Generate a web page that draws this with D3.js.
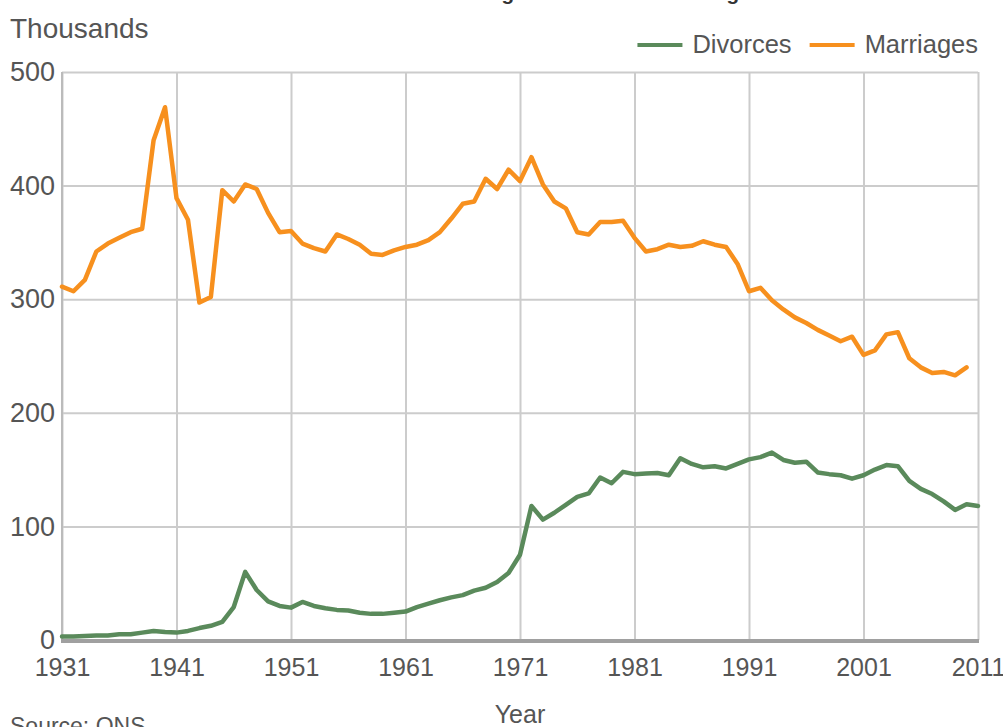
<!DOCTYPE html>
<html>
<head>
<meta charset="utf-8">
<script src="https://cdn.jsdelivr.net/npm/d3@7"></script>
<style>
  html, body { margin: 0; padding: 0; background: #fff; }
  svg { display: block; font-family: "Liberation Sans", Arial, Helvetica, sans-serif; }
</style>
</head>
<body>
<svg id="chart" width="1003" height="727"></svg>
<script>
// ---- Data (thousands) ----
const marriageYears = d3.range(1931, 2011);   // 1931..2010
const marriages = [
  311, 307, 317, 342, 349, 354, 359, 362, 440, 469,
  389, 370, 297, 302, 396, 386, 401, 397, 376, 359,
  360, 349, 345, 342, 357, 353, 348, 340, 339, 343,
  346, 348, 352, 359, 371, 384, 386, 406, 397, 414,
  404, 425, 401, 386, 380, 359, 357, 368, 368, 369,
  354, 342, 344, 348, 346, 347, 351, 348, 346, 331,
  307, 310, 299, 291, 284, 279, 273, 268, 263, 267,
  251, 255, 269, 271, 248, 240, 235, 236, 233, 240
];
const divorceYears = d3.range(1931, 2012);    // 1931..2011
const divorces = [
  3, 3, 3.5, 4, 4, 5, 5, 6.5, 8, 7,
  6.5, 8, 10.5, 12.5, 16, 29, 60, 44, 34, 30,
  28.5, 33.5, 30, 28, 26.5, 26, 24, 23, 23, 24,
  25, 29, 32, 35, 37.5, 39.5, 43.5, 46, 51, 59,
  75, 118, 106, 112, 119, 126, 129, 143, 138, 148,
  146, 146.5, 147, 145, 160, 155, 152, 153, 151, 155,
  159, 161, 165, 158.5, 156, 157, 147.5, 146, 145, 142,
  145, 150, 154, 153, 140, 133, 128.5, 122, 114.5, 119.5,
  118
];
const xTicks = [1931, 1941, 1951, 1961, 1971, 1981, 1991, 2001, 2011];
const yTicks = [0, 100, 200, 300, 400, 500];
const seriesNames = ["Divorces", "Marriages"];
const seriesColors = ["#5a8a5b", "#f7901e"];

// ---- Layout ----
const plotLeft = 62, plotRight = 978, plotTop = 72, plotBottom = 640;
const svg = d3.select("#chart");
const x = d3.scaleLinear().domain([1931, 2011]).range([plotLeft, plotRight]);
const y = d3.scaleLinear().domain([0, 500]).range([plotBottom, plotTop]);
const textColor = "#555";

// Title (cut off at top of frame: only descenders show)
const title = svg.append("text")
  .attr("font-weight", "bold")
  .attr("fill", "#333")
  .attr("font-size", 20)
  .attr("y", -0.5)
  .text("Marriages and divorces in England and Wales");
try {
  const node = title.node();
  const s = title.text();
  const i1 = s.indexOf("g"), i2 = s.indexOf("g", i1 + 1);
  const c1 = node.getSubStringLength(0, i1) + node.getSubStringLength(i1, 1) / 2;
  const c2 = node.getSubStringLength(0, i2) + node.getSubStringLength(i2, 1) / 2;
  const fs = 20 * 225 / (c2 - c1);
  title.attr("font-size", fs).attr("x", 508 - c1 * fs / 20);
} catch (e) {
  title.attr("x", 400);
}

// Horizontal gridlines + y labels
const yAxis = svg.append("g")
  .attr("transform", `translate(${plotLeft},0)`)
  .call(d3.axisLeft(y).tickValues(yTicks).tickSize(-(plotRight - plotLeft)).tickPadding(7).tickFormat(d3.format("d")));
yAxis.select(".domain").remove();
yAxis.selectAll(".tick line").attr("stroke", "#cccccc").attr("stroke-width", 2);
yAxis.selectAll(".tick text").attr("fill", textColor).attr("font-size", 27)
  .attr("font-family", "Liberation Sans, Arial, sans-serif");

// Vertical gridlines + x labels
const xAxis = svg.append("g")
  .attr("transform", `translate(0,${plotBottom})`)
  .call(d3.axisBottom(x).tickValues(xTicks).tickSize(-(plotBottom - plotTop)).tickPadding(18).tickFormat(d3.format("d")));
xAxis.select(".domain").remove();
xAxis.selectAll(".tick line").attr("stroke", "#cccccc").attr("stroke-width", 2);
xAxis.selectAll(".tick text").attr("fill", textColor).attr("font-size", 25)
  .attr("font-family", "Liberation Sans, Arial, sans-serif");

// Left axis line
svg.append("line")
  .attr("x1", x(1931)).attr("x2", x(1931))
  .attr("y1", y(500)).attr("y2", y(0))
  .attr("stroke", "#bbbbbb").attr("stroke-width", 2);

// Bottom axis line (thicker)
svg.append("line")
  .attr("x1", x(1931) - 1).attr("x2", x(2011) + 1)
  .attr("y1", y(0) + 1).attr("y2", y(0) + 1)
  .attr("stroke", "#a0a0a0").attr("stroke-width", 4);

// Lines
const line = d3.line().x(d => x(d[0])).y(d => y(d[1]));
const divData = divorceYears.map((yr, i) => [yr, divorces[i]]);
const marData = marriageYears.map((yr, i) => [yr, marriages[i]]);
[divData, marData].forEach((data, k) => {
  svg.append("path")
    .datum(data)
    .attr("fill", "none")
    .attr("stroke", seriesColors[k])
    .attr("stroke-width", 4.5)
    .attr("stroke-linejoin", "round")
    .attr("stroke-linecap", "round")
    .attr("d", line);
});

// Axis titles
svg.append("text").attr("x", 10).attr("y", 38)
  .attr("fill", textColor).attr("font-size", 28).text("Thousands");
svg.append("text").attr("x", 520).attr("y", 723).attr("text-anchor", "middle")
  .attr("fill", textColor).attr("font-size", 25).text("Year");
svg.append("text").attr("x", 10).attr("y", 734)
  .attr("fill", textColor).attr("font-size", 23).text("Source: ONS");

// Legend (right aligned)
const legend = svg.append("g");
let xEnd = plotRight;
for (let k = seriesNames.length - 1; k >= 0; k--) {
  const t = legend.append("text")
    .attr("x", xEnd).attr("y", 53).attr("text-anchor", "end")
    .attr("fill", textColor).attr("font-size", 25.5)
    .text(seriesNames[k]);
  const w = t.node().getComputedTextLength();
  const textStart = xEnd - w;
  legend.append("line")
    .attr("x1", textStart - 55).attr("x2", textStart - 10)
    .attr("y1", 45).attr("y2", 45)
    .attr("stroke", seriesColors[k]).attr("stroke-width", 4);
  xEnd = textStart - 73;
}
</script>
</body>
</html>
